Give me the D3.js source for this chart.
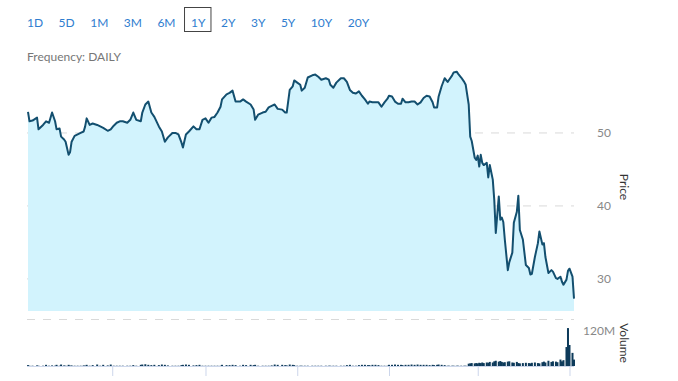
<!DOCTYPE html>
<html>
<head>
<meta charset="utf-8">
<script src="https://cdnjs.cloudflare.com/ajax/libs/d3/7.8.5/d3.min.js"></script>
<style>
  body { margin: 0; background: #fff; font-family: Lato, "Open Sans", sans-serif; }
</style>
</head>
<body>
<script>
// range buttons + header
const ranges = ["1D", "5D", "1M", "3M", "6M", "1Y", "2Y", "3Y", "5Y", "10Y", "20Y"];
const selectedRange = "1Y";
const frequencyLabel = "Frequency: DAILY";

// daily series, day = days since startDate
const startDate = "2018-05-06";
const days = [
  0, 1, 3, 6, 7, 10, 12, 14, 16, 18,
  19, 21, 22, 24, 25, 27, 28, 29, 31, 33,
  35, 37, 38, 39, 41, 43, 46, 48, 50, 53,
  55, 57, 59, 61, 63, 66, 68, 70, 72, 75,
  76, 78, 80, 82, 84, 87, 89, 91, 93, 96,
  98, 100, 102, 103, 105, 107, 110, 112, 114, 116,
  118, 120, 122, 124, 126, 128, 129, 132, 134, 136,
  138, 141, 143, 145, 148, 150, 151, 153, 156, 158,
  160, 162, 164, 166, 169, 171, 172, 174, 176, 177,
  179, 181, 182, 184, 186, 189, 191, 193, 195, 198,
  200, 201, 203, 205, 208, 210, 212, 214, 216, 218,
  220, 222, 224, 226, 227, 229, 231, 233, 235, 237,
  239, 240, 242, 244, 246, 248, 249, 251, 253, 255,
  257, 259, 261, 263, 265, 267, 269, 270, 272, 273,
  275, 277, 279, 280, 282, 283, 285, 286, 288, 290,
  291, 293, 294, 295, 297, 298, 299, 300, 301, 302,
  303, 305, 306, 307, 309, 310, 311, 313, 314, 315,
  316, 317, 319, 320, 322, 323, 325, 326, 327, 329,
  331, 333, 334, 335, 337, 339, 340, 342, 343, 344,
  346, 348, 349, 351, 352, 354, 355, 356, 358, 359,
  360, 362, 363
];
const prices = [
  52.9, 51.6, 51.7, 52.1, 50.5, 51.1, 51.6, 51.4, 52.8, 51.6,
  50.5, 50.6, 49.5, 49.1, 48.8, 47.0, 47.4, 48.8, 49.6, 49.8,
  50.0, 50.2, 50.9, 52.0, 51.1, 51.3, 51.1, 50.9, 50.7, 50.3,
  50.5, 51.0, 51.4, 51.6, 51.6, 51.4, 51.8, 52.8, 51.8, 51.6,
  52.8, 53.9, 54.3, 52.8, 52.2, 50.9, 50.2, 48.8, 49.4, 50.0,
  50.0, 49.8, 48.7, 48.0, 49.8, 50.2, 50.9, 50.5, 50.5, 51.8,
  52.0, 51.4, 52.1, 52.2, 52.8, 53.6, 54.6, 55.3, 55.5, 55.8,
  54.3, 54.3, 54.6, 54.3, 53.9, 53.2, 51.8, 52.5, 52.8, 52.9,
  53.5, 53.7, 53.9, 53.3, 53.2, 52.8, 52.8, 55.9, 56.4, 57.2,
  56.9, 56.6, 55.8, 56.2, 57.6, 57.9, 58.0, 57.7, 57.3, 57.5,
  57.3, 56.6, 56.2, 56.9, 57.5, 57.5, 57.0, 55.9, 55.5, 55.4,
  55.7, 55.1, 54.6, 54.0, 54.3, 54.2, 54.2, 54.2, 53.6, 54.2,
  54.7, 55.1, 55.0, 54.3, 54.0, 54.0, 54.7, 54.2, 54.2, 54.3,
  54.3, 53.9, 54.2, 54.8, 55.1, 55.0, 54.2, 53.5, 53.5, 55.0,
  56.4, 57.5, 57.0, 57.3, 57.9, 58.3, 58.4, 58.1, 57.6, 57.0,
  56.6, 53.9, 49.5, 48.9, 46.6, 46.3, 46.9, 45.4, 47.0, 45.9,
  45.6, 45.9, 43.9, 45.6, 43.6, 40.8, 36.3, 41.3, 38.1, 38.4,
  37.8, 35.4, 31.2, 32.3, 33.6, 37.7, 39.2, 41.4, 36.7, 35.4,
  31.9, 31.5, 30.6, 30.7, 33.0, 34.9, 36.5, 34.7, 34.9, 33.0,
  30.8, 31.2, 31.0, 30.1, 30.0, 30.3, 29.6, 29.2, 29.9, 31.1,
  31.4, 30.3, 27.3
];
// volume in millions
const volumes = [
  3, 1, 1, 2, 1, 1, 4, 1, 2, 1,
  4, 1, 5, 2, 1, 4, 1, 2, 1, 1,
  1, 2, 1, 4, 1, 3, 5, 1, 4, 2,
  5, 1, 1, 1, 1, 1, 1, 3, 1, 4,
  5, 6, 4, 3, 4, 3, 5, 4, 2, 1,
  1, 1, 3, 4, 5, 4, 2, 3, 4, 1,
  1, 1, 1, 1, 1, 1, 4, 3, 3, 4,
  3, 1, 4, 3, 4, 3, 4, 1, 1, 1,
  1, 2, 5, 4, 4, 3, 2, 5, 4, 3,
  1, 1, 1, 1, 1, 1, 1, 1, 1, 1,
  1, 1, 1, 1, 1, 1, 3, 4, 1, 1,
  3, 4, 4, 3, 3, 4, 4, 3, 1, 1,
  1, 4, 4, 5, 4, 4, 3, 4, 4, 5,
  4, 5, 4, 4, 4, 3, 4, 3, 4, 5,
  4, 3, 1, 1, 1, 1, 1, 1, 1, 1,
  1, 8, 9, 10, 9, 10, 9, 11, 10, 12,
  10, 12, 11, 14, 12, 16, 18, 15, 17, 14,
  12, 13, 15, 16, 12, 11, 14, 10, 9, 10,
  11, 10, 9, 11, 12, 10, 9, 13, 15, 12,
  18, 14, 16, 15, 13, 22, 16, 20, 65, 130,
  72, 45, 22
];
const priceTicks = [30, 40, 50];
const volumeTicks = [120];

const width = 678, height = 381;
const svg = d3.select("body").append("svg")
  .attr("width", width)
  .attr("height", height)
  .style("display", "block");

// ---- range selector ----
const btns = svg.append("g").attr("font-size", 12).attr("fill", "#2f7dcf");
let bx = 27;
ranges.forEach(r => {
  const t = btns.append("text").attr("x", bx).attr("y", 26.5).text(r);
  const w = t.node().getComputedTextLength();
  if (r === selectedRange) {
    btns.insert("rect", "text")
      .attr("x", bx - 6.5).attr("y", 7.5)
      .attr("width", w + 12).attr("height", 24)
      .attr("fill", "#fff").attr("stroke", "#444").attr("stroke-width", 1);
  }
  bx += w + 15.5;
});

svg.append("text")
  .attr("x", 27).attr("y", 61)
  .attr("font-size", 12).attr("fill", "#777")
  .text(frequencyLabel);

// ---- scales ----
const parse = d3.timeParse("%Y-%m-%d");
const start = parse(startDate);
const data = days.map((d, i) => ({
  date: d3.timeDay.offset(start, d),
  price: prices[i],
  vol: volumes[i]
}));

const x = d3.scaleTime()
  .domain([start, d3.timeDay.offset(start, 363)])
  .range([28, 574]);
const y = d3.scaleLinear().domain([25.6, 60]).range([311, 60]);
const yv = d3.scaleLinear().domain([0, 120]).range([366, 331]);

// ---- price grid ----
const grid = svg.append("g");
grid.selectAll("line")
  .data(priceTicks)
  .join("line")
    .attr("x1", 27).attr("x2", 574)
    .attr("y1", d => y(d)).attr("y2", d => y(d))
    .attr("stroke", "#d9d9d9")
    .attr("stroke-dasharray", "8,8");
grid.selectAll("text")
  .data(priceTicks)
  .join("text")
    .attr("x", 597).attr("y", d => y(d))
    .attr("dy", "0.35em")
    .attr("font-size", 12).attr("fill", "#888")
    .text(d => d);

// area + line
svg.append("path")
  .datum(data)
  .attr("fill", "#d2f3fd")
  .attr("d", d3.area()
    .x(d => x(d.date))
    .y0(y(25.6))
    .y1(d => y(d.price)));

svg.append("path")
  .datum(data)
  .attr("fill", "none")
  .attr("stroke", "#134f6f")
  .attr("stroke-width", 2)
  .attr("stroke-linejoin", "round")
  .attr("d", d3.line()
    .x(d => x(d.date))
    .y(d => y(d.price)));

// pane separator
svg.append("line")
  .attr("x1", 27).attr("x2", 574)
  .attr("y1", 319.5).attr("y2", 319.5)
  .attr("stroke", "#d9d9d9")
  .attr("stroke-dasharray", "8,8");

svg.append("text")
  .attr("transform", "translate(620,187) rotate(90)")
  .attr("text-anchor", "middle")
  .attr("font-size", 12).attr("fill", "#333")
  .text("Price");

// ---- volume ----
svg.append("g")
  .selectAll("rect")
  .data(data)
  .join("rect")
    .attr("x", d => x(d.date) - 1)
    .attr("width", 2)
    .attr("y", d => yv(d.vol))
    .attr("height", d => yv(0) - yv(d.vol))
    .attr("fill", "#0d3a5a");

const xAxis = svg.append("g").attr("transform", `translate(0,${yv(0)})`)
  .call(d3.axisBottom(x).ticks(d3.timeMonth.every(2)).tickSize(10).tickFormat(""));
xAxis.select(".domain").attr("stroke", "#ccd6eb").attr("d", "M27,0.5H574");
xAxis.selectAll(".tick line").attr("stroke", "#ccd6eb");

svg.append("g").selectAll("text")
  .data(volumeTicks)
  .join("text")
    .attr("x", 583).attr("y", d => yv(d))
    .attr("dy", "0.35em")
    .attr("font-size", 12).attr("fill", "#888")
    .text(d => d + "M");

svg.append("text")
  .attr("transform", "translate(620,343) rotate(90)")
  .attr("text-anchor", "middle")
  .attr("font-size", 12).attr("fill", "#333")
  .text("Volume");
</script>
</body>
</html>
